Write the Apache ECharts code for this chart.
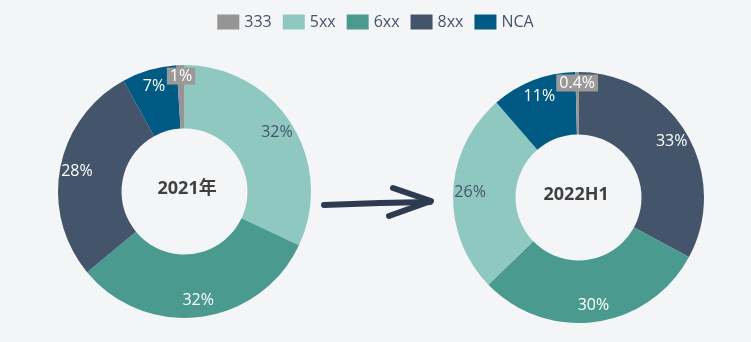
<!DOCTYPE html>
<html><head><meta charset="utf-8">
<script src="https://cdn.jsdelivr.net/npm/echarts@6/dist/echarts.min.js"></script>
<style>html,body{margin:0;padding:0;background:#f3f5f7;}#c{width:751px;height:342px;}</style>
</head><body><div id="c"></div>
<script>
const legendNames = ['333', '5xx', '6xx', '8xx', 'NCA'];
const pie1Names = ['5xx', '6xx', '8xx', 'NCA', '333'];
const pie1Values = [32, 32, 28, 7, 1];
const pie2Names = ['8xx', '6xx', '5xx', 'NCA', '333'];
const pie2Values = [33, 30, 26, 11, 0.4];
const pieTitles = ['2021年', '2022H1'];

const colors = {'333':'#959595','5xx':'#8fc8c0','6xx':'#4a9a90','8xx':'#44546a','NCA':'#005a84'};
const labelColors = {'333':'#ffffff','5xx':'#44546a','6xx':'#ffffff','8xx':'#ffffff','NCA':'#ffffff'};
const FONT = '"Open Sans", "Noto Sans CJK SC", sans-serif';

function build(names, values) {
  return names.map((n, i) => ({
    name: n, value: values[i],
    itemStyle: {color: colors[n]}
  }));
}
function labelData(names, values) {
  return names.map((n, i) => ({
    name: n, value: values[i],
    itemStyle: {color: 'rgba(0,0,0,0)'},
    label: n === '333'
      ? {formatter: p => '{a|' + p.value + '%}\n{b|}',
         rich: {a: {color: '#fff', backgroundColor: '#9a9a9a', padding: [1, 3, 0, 3], fontSize: 16, fontFamily: FONT},
                b: {height: 12}}}
      : {color: labelColors[n]}
  }));
}
function fmt(p) { return p.value + '%'; }

const centers = [[184.5, 191.5], [578.5, 197.5]];
const radii = [[63, 126.5], [63, 125.5]];

function pieSeries(idx, names, values) {
  const c = centers[idx], r = radii[idx];
  return [{
    type: 'pie', center: c, radius: r, startAngle: 90, clockwise: true,
    avoidLabelOverlap: false, silent: true,
    itemStyle: {borderWidth: 0},
    label: {show: false}, labelLine: {show: false},
    data: build(names, values), animation: false
  }, {
    type: 'pie', center: c, radius: [r[1] - 40, r[1]], startAngle: 90, clockwise: true,
    avoidLabelOverlap: false, silent: true, legendHoverLink: false,
    label: {show: true, position: 'inside', formatter: fmt, fontSize: 16, fontFamily: FONT},
    labelLine: {show: false},
    data: labelData(names, values), animation: false
  }];
}

const chart = echarts.init(document.getElementById('c'), null, {renderer: 'canvas'});
chart.setOption({
  backgroundColor: '#f3f5f7',
  color: legendNames.map(n => colors[n]),
  legend: {
    data: legendNames.map(n => ({name: n, itemStyle: {color: colors[n]}})),
    top: 9, left: 'center', itemWidth: 22, itemHeight: 15, itemGap: 11,
    icon: 'rect',
    textStyle: {color: '#44546a', fontSize: 16, fontFamily: FONT}
  },
  graphic: [
    {type: 'text', left: centers[0][0] - 27, top: centers[0][1] - 12,
     style: {text: pieTitles[0], fontSize: 18, fontWeight: 'bold', fill: '#404040', fontFamily: FONT}},
    {type: 'text', left: centers[1][0] - 35, top: centers[1][1] - 12,
     style: {text: pieTitles[1], fontSize: 18, fontWeight: 'bold', fill: '#404040', fontFamily: FONT}},
    {type: 'polyline', shape: {points: [[324, 205], [380, 203], [430, 202]]},
     style: {stroke: '#2e3a4f', lineWidth: 6, lineCap: 'round', fill: null}},
    {type: 'polyline', shape: {points: [[393, 188], [431, 201], [389, 216]]},
     style: {stroke: '#2e3a4f', lineWidth: 6, lineCap: 'round', lineJoin: 'round', fill: null}}
  ],
  series: [...pieSeries(0, pie1Names, pie1Values), ...pieSeries(1, pie2Names, pie2Values)]
});
</script></body></html>
